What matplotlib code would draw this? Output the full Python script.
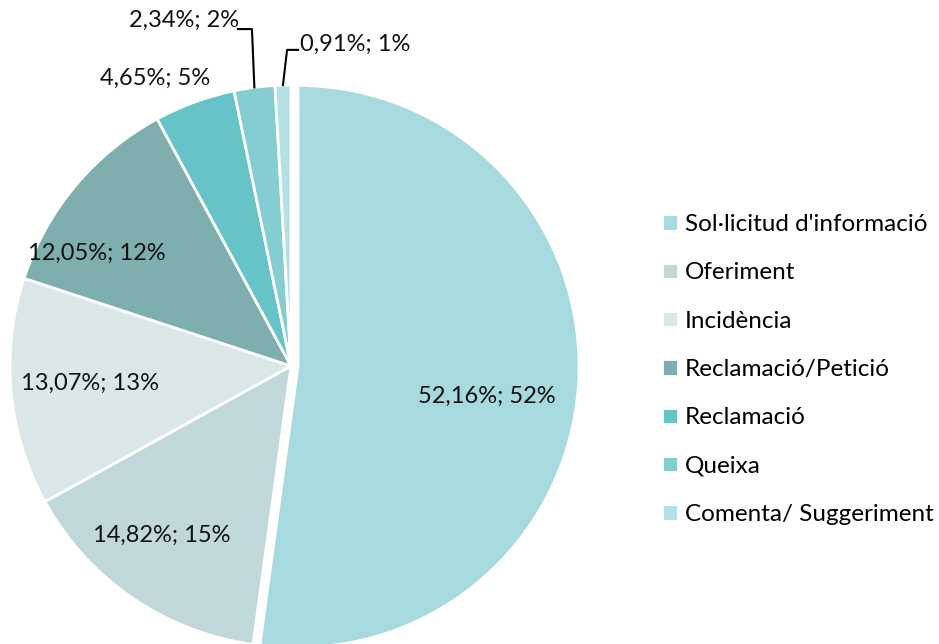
import numpy as np
import matplotlib
matplotlib.use('Agg')
import matplotlib.pyplot as plt

plt.rcParams['font.family'] = ['Lato', 'DejaVu Sans']

# dades
categories = ['Sol·licitud d\'informació', 'Oferiment', 'Incidència', 'Reclamació/Petició',
              'Reclamació', 'Queixa', 'Comenta/ Suggeriment']
percents = [52.16, 14.82, 13.07, 12.05, 4.65, 2.34, 0.91]
rounded = [52, 15, 13, 12, 5, 2, 1]
colors = ['#A7DADE', '#C0D8DA', '#DAE7E8', '#7FAEAE', '#66C3C7', '#84CDD0', '#B3E1E4']

# posicions de les etiquetes (coordenades de l'eix, radi = 1)
label_pos = [(0.698, -0.107), (-0.459, -0.601), (-0.715, -0.060), (-0.690, 0.402),
             (-0.484, 1.025), (-0.381, 1.231), (0.228, 1.146)]
leader_elbow = {5: [(-0.139, 1.199), (-0.189, 1.199)], 6: [(-0.014, 1.125), (0.025, 1.125)]}

fig = plt.figure(figsize=(9.39, 6.44), dpi=100)
ax = fig.add_axes([10/939, (644-647)/644, 562/939, 562/644])

explode = [0.025] + [0]*6
wedges, _ = ax.pie(percents, colors=colors, startangle=90, counterclock=False,
                   explode=explode, radius=1,
                   wedgeprops=dict(edgecolor='white', linewidth=2))
ax.set_xlim(-1, 1)
ax.set_ylim(-1, 1)
ax.set_aspect('equal')
ax.axis('off')

for i, (p, r) in enumerate(zip(percents, rounded)):
    txt = ('%.2f' % p).replace('.', ',') + '%; ' + str(r) + '%'
    x, y = label_pos[i]
    ax.text(x, y, txt, ha='center', va='center', fontsize=17, color='#111111', clip_on=False)
    if i in leader_elbow:
        w = wedges[i]
        ang = np.deg2rad((w.theta1 + w.theta2) / 2)
        pts = [(np.cos(ang), np.sin(ang))] + leader_elbow[i]
        xs, ys = zip(*pts)
        ax.plot(xs, ys, color='black', lw=1.5, clip_on=False)

fig.legend(wedges, categories, loc='upper left', bbox_to_anchor=(662/939, 1-214/644),
           frameon=False, fontsize=17.5, handlelength=0.66, handleheight=0.66,
           handletextpad=0.29, labelspacing=1.125, borderpad=0, borderaxespad=0)

fig.savefig('out.png', dpi=100)
